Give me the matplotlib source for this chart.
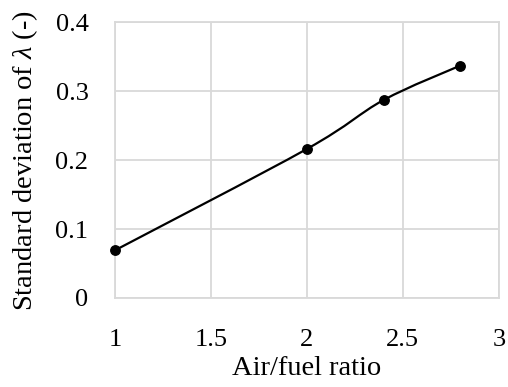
import matplotlib
matplotlib.use("Agg")
import matplotlib.pyplot as plt
from matplotlib.path import Path
from matplotlib.patches import PathPatch

# data
air_fuel = [1.0, 2.0, 2.4, 2.8]
std_lambda = [0.069, 0.216, 0.287, 0.337]

x_ticks = [1, 1.5, 2, 2.5, 3]
x_tick_labels = ["1", "1.5", "2", "2.5", "3"]
y_ticks = [0, 0.1, 0.2, 0.3, 0.4]
y_tick_labels = ["0", "0.1", "0.2", "0.3", "0.4"]

plt.rcParams["font.family"] = ["Liberation Serif", "DejaVu Serif"]
plt.rcParams["mathtext.fontset"] = "custom"
plt.rcParams["mathtext.it"] = "Liberation Serif:italic"
plt.rcParams["mathtext.rm"] = "Liberation Serif"


def smooth_path(xs, ys, t=1 / 6):
    # Excel-style smoothed line as cubic Bezier segments
    pts = list(zip(xs, ys))
    n = len(pts)
    verts = [pts[0]]
    codes = [Path.MOVETO]
    for i in range(n - 1):
        p0 = pts[i - 1] if i > 0 else pts[i]
        p1 = pts[i]
        p2 = pts[i + 1]
        p3 = pts[i + 2] if i + 2 < n else pts[i + 1]
        c1 = (p1[0] + (p2[0] - p0[0]) * t, p1[1] + (p2[1] - p0[1]) * t)
        c2 = (p2[0] - (p3[0] - p1[0]) * t, p2[1] - (p3[1] - p1[1]) * t)
        verts += [c1, c2, p2]
        codes += [Path.CURVE4] * 3
    return Path(verts, codes)


fig = plt.figure(figsize=(5.08, 3.87), dpi=100)
ax = fig.add_axes([0.226, 0.230, 0.756, 0.713])

ax.add_patch(PathPatch(smooth_path(air_fuel, std_lambda), facecolor="none",
                       edgecolor="black", linewidth=1.6, zorder=3))
ax.plot(air_fuel, std_lambda, linestyle="none", marker="o", markersize=6.8,
        color="black", zorder=4, clip_on=False)

ax.set_xlim(1, 3)
ax.set_ylim(0, 0.4)
ax.set_xticks(x_ticks)
ax.set_xticklabels(x_tick_labels)
ax.set_yticks(y_ticks)
ax.set_yticklabels(y_tick_labels)
ax.grid(True, color="#d9d9d9", linewidth=1.3)
ax.set_axisbelow(True)
for s in ax.spines.values():
    s.set_color("#d9d9d9")
    s.set_linewidth(1.3)
ax.tick_params(length=0, labelsize=19)
ax.tick_params(axis="x", pad=22)
ax.tick_params(axis="y", pad=19)

ax.set_xlabel("Air/fuel ratio", fontsize=20.5, labelpad=4)
ax.set_ylabel(r"Standard deviation of $\lambda$ (-)", fontsize=20.5, labelpad=11)

fig.savefig("out.png", dpi=100)
